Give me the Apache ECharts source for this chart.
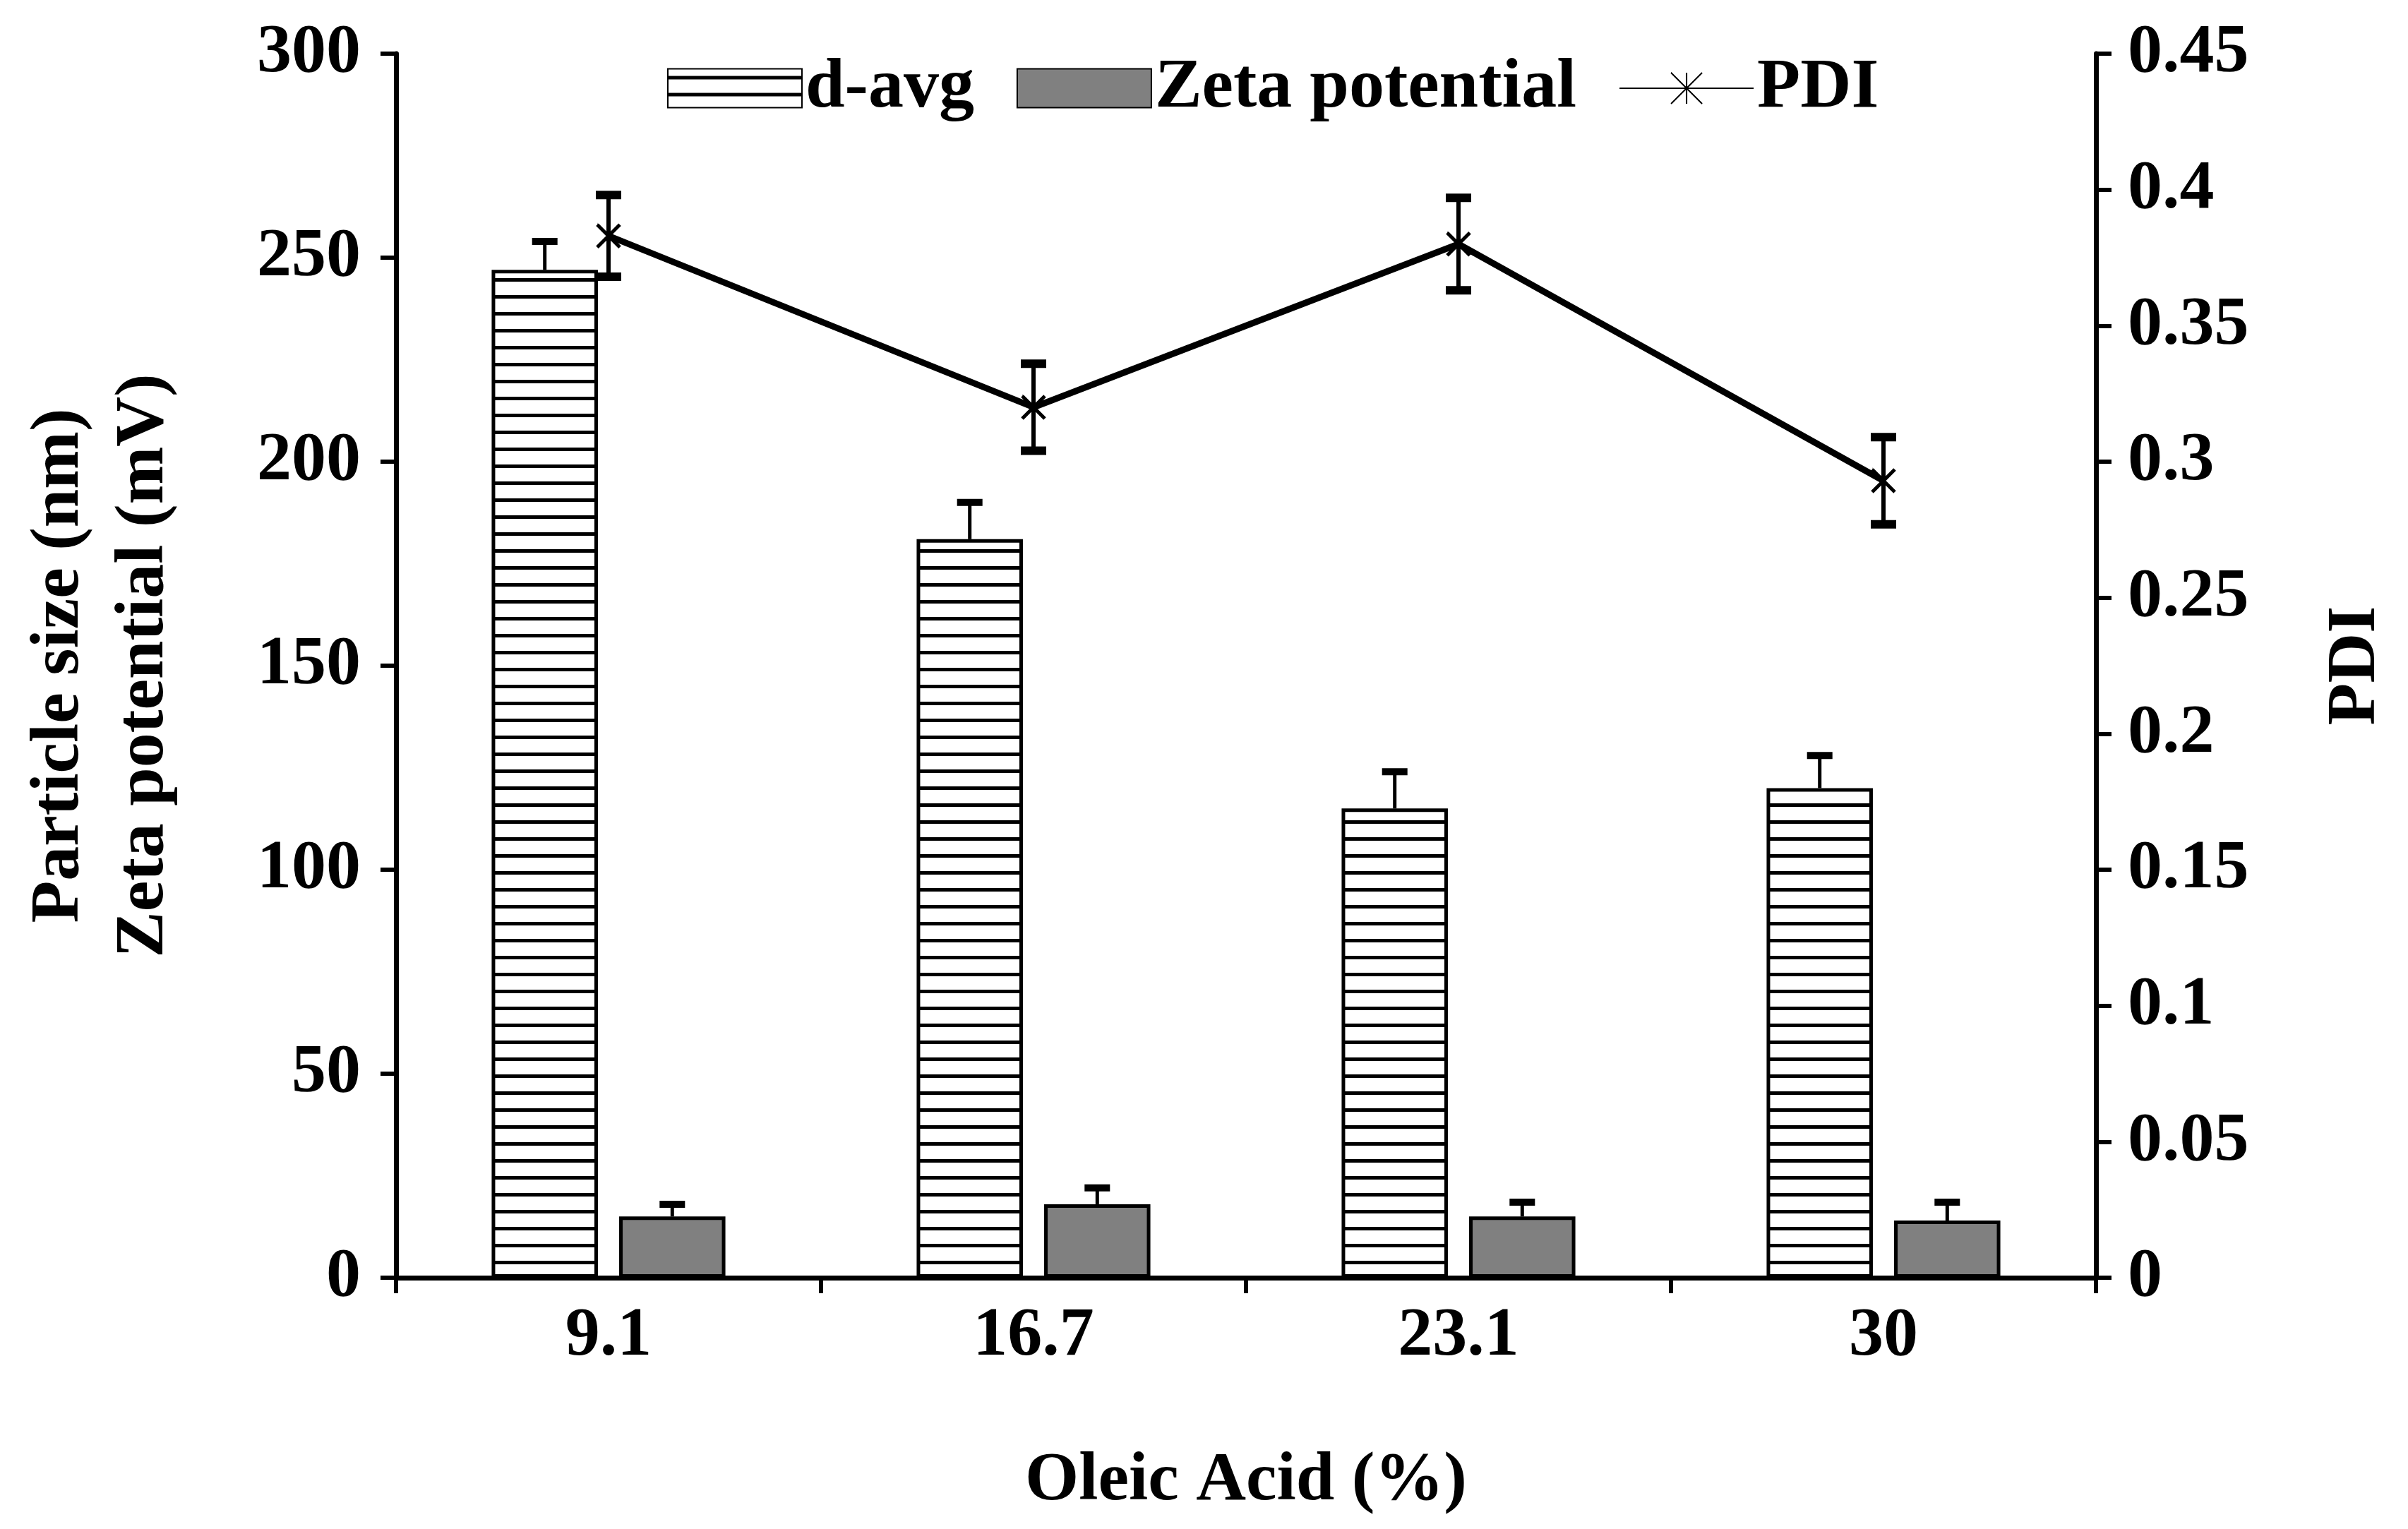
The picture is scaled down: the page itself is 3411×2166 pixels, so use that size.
<!DOCTYPE html>
<html><head><meta charset="utf-8">
<script src="https://cdn.jsdelivr.net/npm/echarts@6/dist/echarts.min.js"></script>
<style>html,body{margin:0;background:#fff}#c{width:3411px;height:2166px}</style>
</head><body><div id="c"></div>
<script>
const categories = ['9.1', '16.7', '23.1', '30'];
const dAvg = [247, 181, 115, 120];
const dAvgErr = [7, 9, 9, 8];
const zeta = [15, 18, 15, 14];
const zetaErr = [3, 4, 3.5, 4.5];
const pdi = [0.383, 0.32, 0.38, 0.293];
const pdiErr = [0.015, 0.016, 0.017, 0.016];
const leftTicks = [0, 50, 100, 150, 200, 250, 300];

const FONT = '"Liberation Serif", "Times New Roman", serif';
const FS = 98;

// horizontal hatching for d-avg
const hatch = document.createElement('canvas');
hatch.width = 24; hatch.height = 24;
const hctx = hatch.getContext('2d');
hctx.fillStyle = '#fff'; hctx.fillRect(0, 0, 24, 24);
hctx.fillStyle = '#000'; hctx.fillRect(0, 10, 24, 5);

// one error bar per point; side: 'up' or 'both'; offset as fraction of band
function errSeries(vals, errs, yAxisIndex, offset, side, capW, lw) {
  return {
    type: 'custom', yAxisIndex, z: 10, silent: true,
    data: vals.map((v, i) => [i, v, errs[i]]),
    renderItem: (params, api) => {
      const band = api.size([1, 0])[0];
      const v = api.value(1), e = api.value(2);
      const top = api.coord([api.value(0), v + e]);
      const mid = api.coord([api.value(0), v]);
      const bot = side === 'both' ? api.coord([api.value(0), v - e]) : mid;
      const x = top[0] + offset * band;
      const st = { stroke: '#000', lineWidth: lw };
      const cap = { stroke: '#000', lineWidth: lw * 2 };
      const ch = [
        { type: 'line', shape: { x1: x, y1: top[1], x2: x, y2: bot[1] }, style: st },
        { type: 'line', shape: { x1: x - capW / 2, y1: top[1], x2: x + capW / 2, y2: top[1] }, style: cap }
      ];
      if (side === 'both') ch.push({ type: 'line', shape: { x1: x - capW / 2, y1: bot[1], x2: x + capW / 2, y2: bot[1] }, style: cap });
      return { type: 'group', children: ch };
    }
  };
}

const axisText = { fontFamily: FONT, fontWeight: 'bold', fontSize: FS, color: '#000' };

const chart = echarts.init(document.getElementById('c'));
chart.setOption({
  backgroundColor: '#fff',
  animation: false,
  textStyle: { fontFamily: FONT, fontWeight: 'bold', color: '#000' },
  grid: { left: 561, right: 442, top: 76, bottom: 356, outerBoundsMode: 'none', containLabel: false },
  legend: {
    left: 940, top: 70, itemWidth: 190, itemHeight: 55, itemGap: 60,
    textStyle: { fontFamily: FONT, fontWeight: 'bold', fontSize: 100, color: '#000' },
    data: [{ name: 'd-avg', icon: 'rect' }, { name: 'Zeta potential', icon: 'rect' }, { name: 'PDI' }]
  },
  xAxis: {
    type: 'category', data: categories,
    name: 'Oleic Acid (%)', nameLocation: 'middle', nameGap: 240,
    nameTextStyle: axisText,
    axisLine: { lineStyle: { color: '#000', width: 7 } },
    axisTick: { show: true, length: 22, lineStyle: { color: '#000', width: 6 } },
    axisLabel: Object.assign({ margin: 35 }, axisText)
  },
  yAxis: [{
    type: 'value', min: 0, max: 300, interval: 50,
    name: 'Particle size (nm)\nZeta potential (mV)', nameLocation: 'middle', nameGap: 296,
    nameTextStyle: Object.assign({ lineHeight: 120 }, axisText),
    axisLine: { show: true, lineStyle: { color: '#000', width: 7 } },
    axisTick: { show: true, length: 22, lineStyle: { color: '#000', width: 6 } },
    axisLabel: Object.assign({ margin: 50, formatter: v => leftTicks.includes(v) ? String(v) : '' }, axisText),
    splitLine: { show: false }
  }, {
    type: 'value', min: 0, max: 0.45, interval: 0.05, position: 'right',
    name: 'PDI', nameLocation: 'middle', nameGap: 320, nameRotate: 90,
    nameTextStyle: axisText,
    axisLine: { show: true, lineStyle: { color: '#000', width: 7 } },
    axisTick: { show: true, length: 22, lineStyle: { color: '#000', width: 6 } },
    axisLabel: Object.assign({ margin: 45, formatter: v => String(Math.round(v * 100) / 100) }, axisText),
    splitLine: { show: false }
  }],
  series: [
    {
      name: 'd-avg', type: 'bar', data: dAvg, barWidth: '25%', barGap: '20%',
      itemStyle: { color: { image: hatch, repeat: 'repeat' }, borderColor: '#000', borderWidth: 5 }
    },
    {
      name: 'Zeta potential', type: 'bar', data: zeta, barWidth: '25%', barGap: '20%',
      itemStyle: { color: '#808080', borderColor: '#000', borderWidth: 5 }
    },
    {
      name: 'PDI', type: 'line', yAxisIndex: 1, data: pdi, z: 12,
      symbol: 'path://M0,0L10,10M10,0L0,10M5,0L5,10M0,0L0.1,0',
      symbolSize: 32,
      lineStyle: { color: '#000', width: 9 },
      itemStyle: { color: '#000', borderColor: '#000', borderWidth: 5 }
    },
    errSeries(dAvg, dAvgErr, 0, -0.15, 'up', 36, 5),
    errSeries(zeta, zetaErr, 0, 0.15, 'up', 36, 5),
    errSeries(pdi, pdiErr, 1, 0, 'both', 36, 6)
  ]
});
</script>
</body></html>
